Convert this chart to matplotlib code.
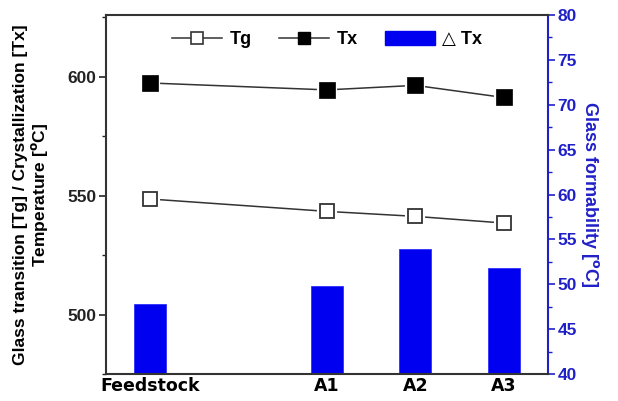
import matplotlib
matplotlib.use("Agg")
import matplotlib.pyplot as plt
from matplotlib.ticker import MultipleLocator
from matplotlib.lines import Line2D
from matplotlib.patches import Patch

# Sample names and their positions along the x axis (gap after the feedstock)
samples = ["Feedstock", "A1", "A2", "A3"]
positions = [0, 2, 3, 4]

# Glass transition and crystallization temperatures [°C]
tg = [548.6, 543.4, 541.3, 538.5]
tx = [597.4, 594.5, 596.4, 591.3]

# Glass formability, delta Tx [°C]
delta_tx = [47.8, 49.8, 53.9, 51.8]

BLUE = "#0000f0"
AXBLUE = "#2020c8"
LINE = "#333333"

plt.rcParams["font.family"] = ["Liberation Sans", "DejaVu Sans"]
plt.rcParams["font.weight"] = "bold"

fig = plt.figure(figsize=(6.18, 4.01), dpi=100)
ax = fig.add_axes([0.1715, 0.0673, 0.7152, 0.8953])
ax2 = ax.twinx()
ax.set_zorder(ax2.get_zorder() + 1)
ax.patch.set_visible(False)

# Bars on the right-hand axis
ax2.bar(positions, delta_tx, width=0.36, color=BLUE, edgecolor="#3030ff",
        linewidth=0.6, bottom=0)
ax2.set_ylim(40, 80)
ax2.yaxis.set_major_locator(MultipleLocator(5))
ax2.yaxis.set_minor_locator(MultipleLocator(2.5))
ax2.tick_params(axis="y", which="major", direction="out", length=5, width=1.2,
                colors=AXBLUE, labelsize=12.5, pad=2)
ax2.tick_params(axis="y", which="minor", direction="out", length=3, width=1.0,
                colors=AXBLUE)
for lab in ax2.get_yticklabels():
    lab.set_fontweight("bold")
ax2.set_ylabel("Glass formability [$^\\mathbf{o}$C]", color=AXBLUE,
               fontsize=13, fontweight="bold", rotation=-90, labelpad=17)
for side in ("left", "top", "bottom"):
    ax2.spines[side].set_visible(False)
ax2.spines["right"].set_color(AXBLUE)
ax2.spines["right"].set_linewidth(1.5)

# Temperature lines on the left-hand axis, with a small white gap around markers
ax.plot(positions, tg, color=LINE, lw=1.1, zorder=2)
ax.plot(positions, tx, color=LINE, lw=1.1, zorder=2)
ax.plot(positions, tg, ls="none", marker="s", ms=11.5, mfc="white",
        mec="white", mew=3, zorder=3)
ax.plot(positions, tx, ls="none", marker="s", ms=12, mfc="white",
        mec="white", mew=3, zorder=3)
ax.plot(positions, tg, ls="none", marker="s", ms=10.5, mfc="white",
        mec=LINE, mew=1.3, zorder=4)
ax.plot(positions, tx, ls="none", marker="s", ms=11.5, mfc="black",
        mec="black", mew=0.5, zorder=4)

ax.set_xlim(-0.5, 4.5)
ax.set_ylim(475, 626)
ax.set_xticks(positions)
ax.set_xticklabels(samples, fontfamily="DejaVu Sans", fontweight="bold",
                   fontsize=12.5)
ax.tick_params(axis="x", length=0, pad=2)
ax.yaxis.set_major_locator(MultipleLocator(50))
ax.yaxis.set_minor_locator(MultipleLocator(25))
ax.tick_params(axis="y", which="major", direction="out", length=5, width=1.2,
               labelsize=12.5, pad=2, colors="#222222")
ax.tick_params(axis="y", which="minor", direction="out", length=3, width=1.0,
               colors="#222222")
for lab in ax.get_yticklabels():
    lab.set_fontweight("bold")
ax.set_ylabel("Glass transition [Tg] / Crystallization [Tx]\nTemperature [$^\\mathbf{o}$C]",
              fontsize=12.5, fontweight="bold", linespacing=1.1, labelpad=12)
for side in ("left", "top", "bottom"):
    ax.spines[side].set_color("#333333")
    ax.spines[side].set_linewidth(1.5)
ax.spines["right"].set_visible(False)

handles = [
    Line2D([], [], color=LINE, lw=1.1, marker="s", ms=8, mfc="white",
           mec=LINE, mew=1.2),
    Line2D([], [], color=LINE, lw=1.1, marker="s", ms=8, mfc="black",
           mec="black"),
    Patch(facecolor=BLUE, edgecolor=BLUE),
]
ax.legend(handles, ["Tg", "Tx", "\u25b3 Tx"], loc="upper center",
          bbox_to_anchor=(0.5, 1.0), ncol=3, frameon=False,
          prop={"family": ["Liberation Sans", "DejaVu Sans"],
                "weight": "bold", "size": 13},
          handlelength=2.8, handleheight=0.8, handletextpad=0.4,
          columnspacing=1.5)

fig.savefig("out.png", dpi=100)
